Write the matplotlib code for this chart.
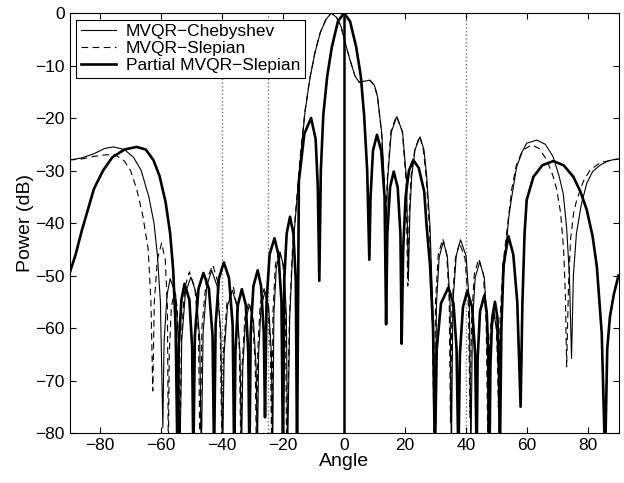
import numpy as np
import matplotlib
matplotlib.use('Agg')
from matplotlib import pyplot as plt

plt.rcParams['font.family'] = ['Liberation Sans', 'DejaVu Sans']

# beam patterns: (angle in degrees, power in dB)
chebyshev = [
    (-90, -28), (-86, -27.6), (-82, -26.8), (-78.5, -25.8), (-75.6, -25.5), (-72, -26),
    (-69, -27.5), (-66.5, -30), (-64, -35), (-62.3, -40), (-61.2, -46), (-60.2, -55), (-59.4, -79),
    (-59, -62.6), (-58, -53.6), (-57, -50.6), (-55.2, -53.6), (-54.3, -62.6), (-53.8, -85),
    (-53.2, -62.3), (-52, -53.3), (-50.2, -50.3), (-48.5, -53.3), (-47.3, -62.3), (-46.8, -85),
    (-46.2, -61), (-45, -52), (-43.4, -49), (-41.6, -52), (-40.4, -61), (-39.8, -85),
    (-39.3, -64.8), (-38.2, -55.8), (-36.6, -52.8), (-35.1, -55.8), (-34.1, -64.8), (-33.6, -85),
    (-33.2, -67.6), (-32.3, -58.6), (-31, -55.6), (-29.7, -58.6), (-28.8, -67.6), (-28.4, -85),
    (-28, -65), (-27.2, -56), (-25.9, -53), (-24.7, -56), (-23.8, -65), (-23.4, -85),
    (-23, -57.5), (-22.2, -48.5), (-21, -45.5), (-19.7, -48.5), (-18.9, -57.5), (-18.5, -85),
    (-17.8, -58), (-16.8, -45), (-15.5, -36), (-14.2, -27), (-12.8, -19), (-11.2, -12.5),
    (-9.5, -7.5), (-7.8, -3.8), (-6, -1.3), (-4.2, 0), (-2.5, -0.8), (-1, -2.5), (0.3, -5.5),
    (2, -9), (3.6, -12), (5, -13.2), (6.5, -13), (8.5, -12.8), (10, -13.8), (11, -16),
    (12.4, -23), (13.2, -32), (13.7, -42),
    (14.3, -31.7), (15.5, -22.7), (17.3, -19.7), (19.2, -22.7), (20.5, -31.7), (21.1, -51),
    (21.6, -38), (22.2, -31), (23.3, -26), (24.9, -23.6), (26.2, -26), (27.1, -31), (28.2, -40.7),
    (29.3, -59.7), (29.9, -85),
    (30.3, -55.5), (31.2, -46.5), (32.6, -43.5), (33.9, -46.5), (34.8, -55.5), (35.2, -85),
    (35.7, -55.2), (36.8, -46.2), (38.2, -43.2), (40, -46.2), (41.1, -55.2), (41.6, -85),
    (42.1, -59.4), (43, -50.4), (44.5, -47.4), (46, -50.4), (46.9, -59.4), (47.4, -85),
    (47.7, -69.5), (48.3, -60.5), (49.2, -57.5), (50.1, -60.5), (50.7, -69.5), (51, -85),
    (51.5, -60), (52.3, -50), (54, -39), (55, -35), (56.6, -29.3), (58.5, -26.3), (59.9, -24.8),
    (63.2, -24.2), (66, -25), (68.5, -27.3), (70.5, -31), (71.9, -34.5), (73, -41), (73.9, -50),
    (74.6, -65.8), (75.2, -50), (76.2, -42), (77.8, -36.5), (79.6, -32.4), (81.5, -30.2),
    (83.9, -29), (86.5, -28.2), (88.5, -27.9), (90, -27.8),
]

slepian = [
    (-90, -28), (-86, -27.8), (-82, -27.3), (-78, -27), (-75, -27), (-72, -28.2), (-70, -30),
    (-68, -33.5), (-66, -38.5), (-64.2, -45), (-63.3, -55), (-62.7, -72),
    (-62.2, -55), (-61.2, -47), (-59.8, -43.8), (-58.6, -47), (-57.9, -56), (-57.6, -85),
    (-57.3, -65), (-56.6, -56), (-55.6, -53), (-54.7, -56), (-54.1, -65), (-53.8, -85),
    (-53.3, -61.3), (-52.2, -52.3), (-50.7, -49.3), (-48.9, -52.3), (-47.7, -61.3), (-47.2, -85),
    (-46.6, -60), (-45.2, -51), (-43, -48), (-41.5, -51), (-40.6, -60), (-40, -85),
    (-39.5, -64.3), (-38.4, -55.3), (-36.2, -52.3), (-35.3, -55.3), (-34.3, -64.3), (-33.8, -85),
    (-33.4, -67), (-32.5, -58), (-31.2, -55), (-30, -58), (-29.1, -67), (-28.7, -85),
    (-28.3, -64.5), (-27.5, -55.5), (-26.2, -52.5), (-25, -55.5), (-24.1, -64.5), (-23.7, -85),
    (-23.3, -57), (-22.5, -48), (-21.3, -45), (-20, -48), (-19.2, -57), (-18.8, -85),
    (-17.9, -58), (-16.9, -45), (-15.6, -36), (-14.3, -27), (-12.9, -19), (-11.2, -12.4),
    (-9.5, -7.4), (-7.8, -3.7), (-6, -1.3), (-4.2, 0), (-2.5, -0.8), (-1, -2.5), (0.3, -5.5),
    (2, -9), (3.6, -12), (5, -13.2), (6.5, -13), (8.5, -12.8), (10, -13.8), (11, -16),
    (12.3, -23), (13.1, -32), (13.6, -42),
    (14.2, -31.5), (15.4, -22.5), (17.2, -19.6), (19.1, -22.5), (20.3, -31.5), (20.9, -52),
    (21.4, -38), (22, -31), (23.2, -26), (24.8, -23.4), (26, -26), (26.9, -31), (28, -40.7),
    (29, -59.7), (29.6, -85),
    (30, -55), (30.9, -46), (32.4, -43), (33.7, -46), (34.5, -55), (34.9, -78),
    (35.4, -55.8), (36.5, -46.8), (37.9, -43.8), (39.7, -46.8), (40.8, -55.8), (41.3, -77),
    (41.8, -58.8), (42.7, -49.8), (44.2, -46.8), (45.7, -49.8), (46.6, -58.8), (47.1, -80),
    (47.4, -68.5), (48.1, -59.5), (49.1, -56.5), (49.9, -59.5), (50.3, -66), (50.6, -75),
    (51.2, -58), (52.1, -48), (53.7, -40), (55, -33.5), (56.5, -29), (58.5, -26.2),
    (61.5, -25.1), (64, -25.8), (66.5, -28), (68.5, -31), (69.7, -33.5), (71, -38), (72, -45),
    (72.6, -54), (73, -67.4), (73.6, -52), (74.3, -43), (75.3, -38), (76.3, -35.6),
    (78.5, -32), (80.7, -29.9), (84, -28.5), (88, -28), (90, -27.8),
]

partial = [
    (-90, -49.6), (-88, -46), (-86, -41.5), (-84, -37.5), (-82, -33.5), (-79, -30), (-76, -27.5),
    (-72, -26), (-68, -25.5), (-65, -26), (-62.5, -28), (-60.5, -31), (-58.5, -36), (-57, -42),
    (-56, -49), (-55.2, -60), (-54.6, -85),
    (-54.2, -63.6), (-53.3, -54.6), (-52.3, -51.6), (-50.7, -54.6), (-49.8, -63.6), (-49.4, -85),
    (-48.9, -61.5), (-47.7, -52.5), (-46.1, -49.5), (-44.3, -52.5), (-43.1, -61.5), (-42.6, -85),
    (-42.1, -59.5), (-41, -50.5), (-39.4, -47.5), (-37.7, -50.5), (-36.5, -59.5), (-36, -85),
    (-35.6, -64.6), (-34.8, -55.6), (-33.5, -52.6), (-32.2, -55.6), (-31.4, -64.6), (-31, -85),
    (-30.6, -61), (-29.7, -52), (-28.3, -49), (-27.2, -52), (-26.3, -61), (-25.9, -77),
    (-25.4, -55), (-24.4, -46), (-22.8, -42.9), (-21.5, -46), (-20.5, -55), (-20, -85),
    (-19.6, -51), (-18.8, -42), (-17.7, -38.8), (-16.6, -42), (-15.8, -51), (-15.4, -85),
    (-14.8, -32), (-13, -23), (-10.8, -20), (-9.3, -24), (-8.6, -33), (-8.1, -51),
    (-7.6, -30), (-6.8, -19.5), (-5.5, -12), (-4, -6.5), (-2, -1.6), (0, 0), (2, -1.6),
    (4, -6.5), (5.5, -12), (6.6, -19.5), (7.6, -30), (8.3, -47),
    (8.7, -35), (9.5, -26.2), (10.8, -23.2), (12.2, -26.2), (13.3, -35), (13.8, -59.3),
    (14.2, -42), (15.1, -33.2), (16.3, -30.2), (17.6, -33.2), (18.5, -42), (18.9, -63),
    (19.4, -45), (20.2, -35), (21.3, -30), (22.7, -28), (24.5, -29.5), (26.3, -34), (27.1, -40.7),
    (28.2, -48), (29.2, -60), (29.8, -85),
    (30.4, -64), (31.8, -55.3), (34.2, -52.3), (35.9, -55.3), (36.9, -64), (37.5, -85),
    (38, -65), (39, -56), (40.4, -53), (42, -56), (43, -65), (43.5, -85),
    (43.8, -66), (44.6, -56.8), (46, -53.8), (46.8, -57), (47.4, -66), (47.7, -85),
    (48, -67), (48.6, -58), (49.5, -55), (50.3, -58), (50.8, -67), (51.1, -85),
    (51.6, -60), (52.3, -48), (53.9, -42.5), (55.5, -46), (56.8, -55), (57.9, -75),
    (58.5, -55), (59.2, -42), (59.9, -35.6), (62.1, -31.2), (65, -29), (68.6, -28.2), (72, -29),
    (75.2, -31.2), (77.5, -34), (79.6, -37.5), (81.5, -42.5), (82.9, -48.3), (84.5, -61),
    (85.6, -85), (86.3, -64), (87.2, -57.8), (88.5, -53.5), (90, -50),
]

labels = ['MVQR\u2212Chebyshev', 'MVQR\u2212Slepian', 'Partial MVQR\u2212Slepian']
marker_angles = [-40, -25, 40]   # dotted vertical lines
look_angle = 0

xticks = np.arange(-80, 81, 20)
yticks = np.arange(-80, 1, 10)

fig = plt.figure(figsize=(6.24, 4.83), dpi=100)
ax = fig.add_axes([0.1114, 0.1035, 0.8798, 0.8695])

for a in marker_angles:
    ax.axvline(a, color='0.45', linestyle=':', linewidth=1.0, zorder=1)
ax.plot([look_angle, look_angle], [-80, 0], color='black', linewidth=1.8, zorder=2)

cx, cy = np.array(chebyshev).T
sx, sy = np.array(slepian).T
px, py = np.array(partial).T
ax.plot(cx, cy, color='black', linewidth=0.8, label=labels[0], zorder=3)
ax.plot(sx, sy, color='black', linewidth=0.8, dashes=(6, 4), label=labels[1], zorder=3)
ax.plot(px, py, color='black', linewidth=1.9, label=labels[2], zorder=4)

ax.set_xlim(-90, 90)
ax.set_ylim(-80, 0)
ax.set_xticks(xticks)
ax.set_yticks(yticks)
ax.set_xticklabels([str(t).replace('-', '\u2212') for t in xticks])
ax.set_yticklabels([str(t).replace('-', '\u2212') for t in yticks])
ax.tick_params(direction='in', top=True, right=True, length=4, labelsize=12.5, width=0.8)
for s in ax.spines.values():
    s.set_linewidth(0.8)
ax.set_xlabel('Angle', fontsize=14, labelpad=0)
ax.set_ylabel('Power (dB)', fontsize=14, labelpad=1)

leg = ax.legend(loc='upper left', fontsize=12.5, frameon=True, fancybox=False,
                framealpha=1, edgecolor='black', borderpad=0.25, labelspacing=0.1,
                handlelength=2.0, handletextpad=0.6, borderaxespad=0.4)
leg.get_frame().set_linewidth(0.8)
leg.set_zorder(10)

fig.savefig('out.png', dpi=100)
